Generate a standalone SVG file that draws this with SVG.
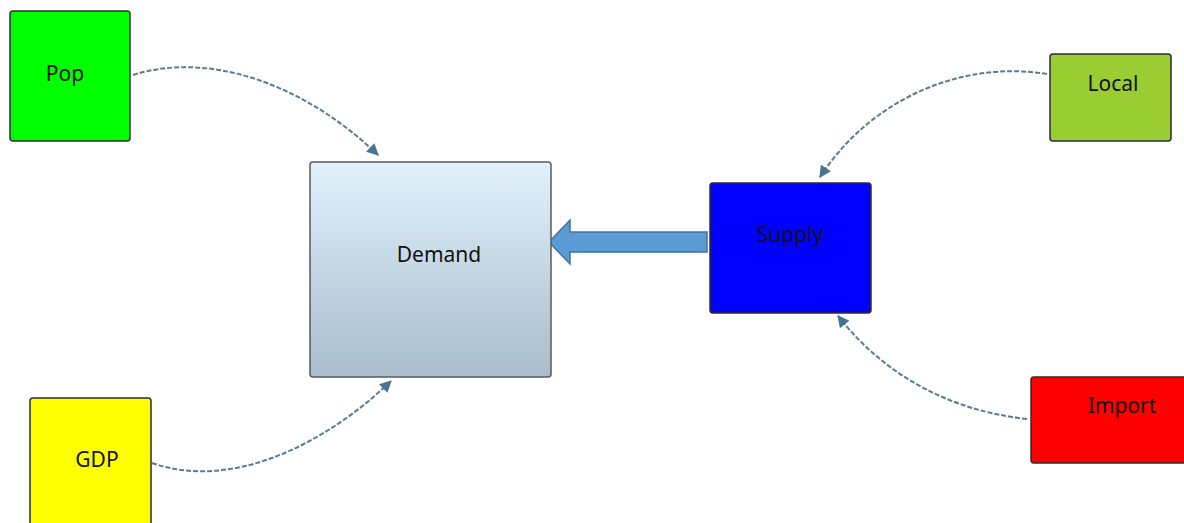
<svg xmlns="http://www.w3.org/2000/svg" width="1184" height="523" viewBox="0 0 1184 523">
  <defs>
    <linearGradient id="demandFill" x1="0" y1="0" x2="0" y2="1">
      <stop offset="0" stop-color="#e2f1fc"/>
      <stop offset="1" stop-color="#a8bccc"/>
    </linearGradient>
    <marker id="head" viewBox="0 0 10 10" refX="9" refY="5" markerWidth="6.5" markerHeight="6" orient="auto" markerUnits="strokeWidth">
      <path d="M0,0 L10,5 L0,10 Z" fill="#4a7390"/>
    </marker>
    <style>
      .box { stroke: #2e2e2e; stroke-width: 1.5; }
      .label { font-family: "Noto Sans", "Open Sans", sans-serif; font-size: 21px; fill: #111; text-anchor: middle; }
      .link { fill: none; stroke: #5a7c93; stroke-width: 2; stroke-dasharray: 5 2; marker-end: url(#head); }
    </style>
  </defs>
  <rect width="1184" height="523" fill="#ffffff"/>

  <g id="connectors">
    <path class="link" d="M133,75 C205,52 300,80 378,155"/>
    <path class="link" d="M152,463 C235,492 330,440 391,381"/>
    <path class="link" d="M1047,74 C960,60 870,100 820,177"/>
    <path class="link" d="M1027,419 C945,410 882,372 838,316"/>
    <!-- block arrow from Supply into Demand -->
    <path d="M707,232 L570,232 L570,220 L549,242 L570,264 L570,252 L707,252 Z" fill="#5b9bd5" stroke="#41719c" stroke-width="1.5"/>
  </g>

  <g id="pop">
    <rect class="box" x="10" y="11" width="120" height="130" rx="3" fill="#00ff00"/>
    <text class="label" x="65" y="81">Pop</text>
  </g>

  <g id="demand">
    <rect x="310" y="162" width="241" height="215" rx="3" fill="url(#demandFill)" stroke="#555b60" stroke-width="1.5"/>
    <text class="label" x="439" y="262">Demand</text>
  </g>

  <g id="supply">
    <rect class="box" x="710" y="183" width="161" height="130" rx="3" fill="#0000ff"/>
    <text class="label" x="790" y="242">Supply</text>
  </g>

  <g id="local">
    <rect class="box" x="1050" y="54" width="121" height="87" rx="3" fill="#9acd32"/>
    <text class="label" x="1113" y="91">Local</text>
  </g>

  <g id="gdp">
    <rect class="box" x="30" y="398" width="121" height="140" rx="3" fill="#ffff00"/>
    <text class="label" x="97" y="467">GDP</text>
  </g>

  <g id="import">
    <rect class="box" x="1031" y="377" width="170" height="86" rx="3" fill="#ff0000"/>
    <text class="label" x="1122" y="413">Import</text>
  </g>
</svg>
